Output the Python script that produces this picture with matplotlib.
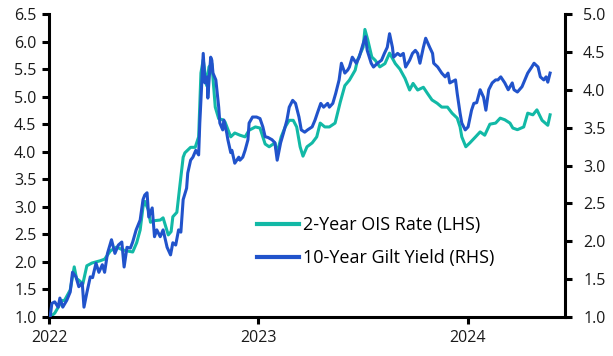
import matplotlib
matplotlib.use("Agg")
import matplotlib.pyplot as plt
import pandas as pd

# ---- data ----
ois_dates = [
    "2022-01-03", "2022-01-11", "2022-01-24", "2022-01-28", "2022-02-07", "2022-02-14",
    "2022-02-18", "2022-02-24", "2022-03-01", "2022-03-08", "2022-03-17", "2022-03-31",
    "2022-04-08", "2022-04-18", "2022-04-29", "2022-05-09", "2022-05-17", "2022-05-27",
    "2022-06-03", "2022-06-09", "2022-06-14", "2022-06-17", "2022-06-23", "2022-06-27",
    "2022-07-05", "2022-07-14", "2022-07-19", "2022-07-28", "2022-08-02", "2022-08-05",
    "2022-08-12", "2022-08-17", "2022-08-23", "2022-08-26", "2022-09-05", "2022-09-13",
    "2022-09-19", "2022-09-23", "2022-09-27", "2022-10-03", "2022-10-07", "2022-10-12",
    "2022-10-18", "2022-10-24", "2022-10-31", "2022-11-04", "2022-11-14", "2022-11-21",
    "2022-11-30", "2022-12-09", "2022-12-16", "2022-12-27", "2023-01-04", "2023-01-13",
    "2023-01-20", "2023-01-30", "2023-02-03", "2023-02-10", "2023-02-17", "2023-02-24",
    "2023-03-03", "2023-03-09", "2023-03-15", "2023-03-20", "2023-03-27", "2023-04-05",
    "2023-04-13", "2023-04-19", "2023-04-27", "2023-05-05", "2023-05-15", "2023-05-24",
    "2023-06-01", "2023-06-09", "2023-06-19", "2023-06-23", "2023-07-03", "2023-07-06",
    "2023-07-11", "2023-07-18", "2023-07-24", "2023-08-01", "2023-08-10", "2023-08-18",
    "2023-08-28", "2023-09-05", "2023-09-14", "2023-09-22", "2023-09-28", "2023-10-06",
    "2023-10-16", "2023-10-23", "2023-10-31", "2023-11-09", "2023-11-17", "2023-11-27",
    "2023-12-05", "2023-12-14", "2023-12-19", "2023-12-22", "2023-12-29", "2024-01-05",
    "2024-01-15", "2024-01-23", "2024-01-31", "2024-02-09", "2024-02-19", "2024-02-27",
    "2024-03-06", "2024-03-15", "2024-03-20", "2024-03-28", "2024-04-08", "2024-04-15",
    "2024-04-24", "2024-05-01", "2024-05-10", "2024-05-20", "2024-05-24",
]
ois_values = [
    1.00, 1.07, 1.30, 1.30, 1.49, 1.91,
    1.70, 1.65, 1.60, 1.93, 1.98, 2.02,
    2.05, 2.20, 2.27, 2.22, 2.20, 2.18,
    2.35, 2.58, 3.00, 3.10, 2.95, 2.72,
    2.75, 2.76, 2.80, 2.49, 2.55, 2.82,
    2.90, 3.36, 3.90, 3.98, 4.08, 4.08,
    4.27, 5.43, 5.67, 5.20, 5.54, 5.60,
    4.81, 4.60, 4.58, 4.54, 4.27, 4.34,
    4.30, 4.27, 4.39, 4.45, 4.43, 4.14,
    4.09, 4.16, 3.98, 4.27, 4.45, 4.57,
    4.57, 4.45, 4.09, 3.92, 4.09, 4.16,
    4.27, 4.52, 4.45, 4.45, 4.52, 4.90,
    5.20, 5.30, 5.48, 5.66, 5.90, 6.22,
    6.03, 5.72, 5.66, 5.54, 5.60, 5.79,
    5.60, 5.50, 5.33, 5.12, 5.24, 5.12,
    5.17, 5.06, 4.94, 4.88, 4.81, 4.81,
    4.70, 4.61, 4.45, 4.27, 4.09, 4.16,
    4.27, 4.36, 4.30, 4.50, 4.52, 4.61,
    4.58, 4.52, 4.43, 4.40, 4.45, 4.70,
    4.67, 4.76, 4.57, 4.48, 4.67,
]

gilt_dates = [
    "2022-01-03", "2022-01-06", "2022-01-11", "2022-01-17", "2022-01-20", "2022-01-25",
    "2022-02-01", "2022-02-07", "2022-02-11", "2022-02-17", "2022-02-22", "2022-02-28",
    "2022-03-03", "2022-03-08", "2022-03-14", "2022-03-18", "2022-03-24", "2022-03-29",
    "2022-04-04", "2022-04-08", "2022-04-13", "2022-04-20", "2022-04-26", "2022-05-02",
    "2022-05-08", "2022-05-12", "2022-05-17", "2022-05-23", "2022-05-27", "2022-06-02",
    "2022-06-09", "2022-06-14", "2022-06-17", "2022-06-21", "2022-06-24", "2022-06-30",
    "2022-07-04", "2022-07-08", "2022-07-14", "2022-07-19", "2022-07-26", "2022-08-01",
    "2022-08-05", "2022-08-10", "2022-08-15", "2022-08-19", "2022-08-23", "2022-08-29",
    "2022-08-31", "2022-09-05", "2022-09-09", "2022-09-14", "2022-09-19", "2022-09-21",
    "2022-09-27", "2022-09-30", "2022-10-04", "2022-10-05", "2022-10-10", "2022-10-12",
    "2022-10-14", "2022-10-19", "2022-10-24", "2022-10-26", "2022-10-31", "2022-11-02",
    "2022-11-07", "2022-11-09", "2022-11-14", "2022-11-16", "2022-11-21", "2022-11-28",
    "2022-11-30", "2022-12-05", "2022-12-09", "2022-12-14", "2022-12-16", "2022-12-22",
    "2022-12-29", "2023-01-04", "2023-01-09", "2023-01-13", "2023-01-18", "2023-01-25",
    "2023-01-30", "2023-02-03", "2023-02-09", "2023-02-14", "2023-02-20", "2023-02-24",
    "2023-03-02", "2023-03-07", "2023-03-13", "2023-03-17", "2023-03-23", "2023-03-28",
    "2023-04-05", "2023-04-10", "2023-04-14", "2023-04-20", "2023-04-25", "2023-05-02",
    "2023-05-05", "2023-05-11", "2023-05-16", "2023-05-22", "2023-05-26", "2023-06-01",
    "2023-06-06", "2023-06-09", "2023-06-14", "2023-06-21", "2023-06-26", "2023-07-03",
    "2023-07-07", "2023-07-10", "2023-07-17", "2023-07-21", "2023-07-28", "2023-08-04",
    "2023-08-09", "2023-08-14", "2023-08-18", "2023-08-23", "2023-08-25", "2023-09-01",
    "2023-09-06", "2023-09-11", "2023-09-15", "2023-09-22", "2023-09-27", "2023-10-02",
    "2023-10-06", "2023-10-10", "2023-10-16", "2023-10-20", "2023-10-27", "2023-11-01",
    "2023-11-03", "2023-11-10", "2023-11-17", "2023-11-23", "2023-11-28", "2023-12-01",
    "2023-12-11", "2023-12-14", "2023-12-19", "2023-12-22", "2023-12-28", "2024-01-02",
    "2024-01-08", "2024-01-12", "2024-01-17", "2024-01-23", "2024-01-29", "2024-02-02",
    "2024-02-07", "2024-02-13", "2024-02-19", "2024-02-23", "2024-02-28", "2024-03-06",
    "2024-03-12", "2024-03-19", "2024-03-22", "2024-03-28", "2024-04-05", "2024-04-10",
    "2024-04-15", "2024-04-22", "2024-04-26", "2024-05-03", "2024-05-07", "2024-05-13",
    "2024-05-17", "2024-05-20", "2024-05-24",
]
gilt_values = [
    1.00, 1.18, 1.20, 1.13, 1.25, 1.13,
    1.22, 1.33, 1.59, 1.53, 1.40, 1.45,
    1.13, 1.32, 1.53, 1.52, 1.71, 1.59,
    1.69, 1.59, 1.84, 2.02, 1.84, 1.95,
    1.99, 1.66, 1.92, 1.91, 1.99, 2.15,
    2.28, 2.55, 2.61, 2.64, 2.32, 2.44,
    2.06, 2.15, 2.06, 2.15, 1.92, 1.82,
    1.98, 1.95, 2.15, 2.12, 2.55, 2.70,
    2.90, 3.07, 3.11, 3.20, 3.14, 3.56,
    4.48, 4.09, 4.17, 3.89, 4.43, 4.39,
    4.22, 4.13, 3.77, 3.56, 3.47, 3.60,
    3.43, 3.34, 3.17, 3.20, 3.03, 3.11,
    3.07, 3.11, 3.20, 3.34, 3.56, 3.64,
    3.64, 3.62, 3.51, 3.38, 3.37, 3.34,
    3.30, 3.07, 3.30, 3.43, 3.60, 3.77,
    3.86, 3.82, 3.64, 3.47, 3.44, 3.47,
    3.51, 3.60, 3.69, 3.82, 3.77, 3.82,
    3.77, 3.82, 3.95, 4.13, 4.35, 4.22,
    4.26, 4.30, 4.43, 4.35, 4.43, 4.61,
    4.70, 4.52, 4.35, 4.30, 4.35, 4.39,
    4.48, 4.56, 4.74, 4.56, 4.43, 4.48,
    4.45, 4.48, 4.30, 4.39, 4.48, 4.52,
    4.48, 4.35, 4.56, 4.68, 4.56, 4.48,
    4.35, 4.30, 4.22, 4.17, 4.22, 4.09,
    4.13, 3.95, 3.69, 3.56, 3.47, 3.51,
    3.73, 3.82, 3.83, 4.00, 3.90, 3.73,
    4.00, 4.09, 4.13, 4.13, 4.17, 4.09,
    4.00, 4.09, 4.00, 3.97, 4.04, 4.13,
    4.22, 4.30, 4.35, 4.30, 4.17, 4.13,
    4.17, 4.10, 4.22,
]

ois_label = "2-Year OIS Rate (LHS)"
gilt_label = "10-Year Gilt Yield (RHS)"
left_ticks = [1.0, 1.5, 2.0, 2.5, 3.0, 3.5, 4.0, 4.5, 5.0, 5.5, 6.0, 6.5]
right_ticks = [1.0, 1.5, 2.0, 2.5, 3.0, 3.5, 4.0, 4.5, 5.0]
year_ticks = ["2022-01-01", "2023-01-01", "2024-01-01"]
year_labels = ["2022", "2023", "2024"]

# ---- style ----
plt.rcParams["font.family"] = ["Open Sans", "DejaVu Sans"]
plt.rcParams["font.size"] = 11.5
TEAL = "#12b9a6"
BLUE = "#2153cb"

fig = plt.figure(figsize=(6.13, 3.56), dpi=100)
ax = fig.add_axes([49 / 613, 1 - 317 / 356, (565 - 49) / 613, (317 - 14) / 356])
ax2 = ax.twinx()

l1, = ax.plot(pd.to_datetime(ois_dates), ois_values, color=TEAL, lw=2.2,
              label=ois_label, solid_joinstyle="round")
l2, = ax2.plot(pd.to_datetime(gilt_dates), gilt_values, color=BLUE, lw=2.2,
               label=gilt_label, solid_joinstyle="round")

ax.set_xlim(pd.Timestamp("2022-01-01"), pd.Timestamp("2024-06-19"))
ax.set_ylim(1.0, 6.5)
ax2.set_ylim(1.0, 5.0)
ax.set_yticks(left_ticks)
ax.set_yticklabels([f"{v:.1f}" for v in left_ticks])
ax2.set_yticks(right_ticks)
ax2.set_yticklabels([f"{v:.1f}" for v in right_ticks])
ax.set_xticks(pd.to_datetime(year_ticks))
ax.set_xticklabels(year_labels)

for a in (ax, ax2):
    a.spines["top"].set_visible(False)
    for s in a.spines.values():
        s.set_linewidth(2.2)
        s.set_color("black")
    a.tick_params(width=2.2, length=5, color="black", labelcolor="#1a1a1a", pad=4)
ax2.tick_params(axis="y", pad=8)
ax.spines["right"].set_visible(False)
ax2.spines["left"].set_visible(False)
ax2.spines["bottom"].set_visible(False)

fig.legend(handles=[l1, l2], loc="center left",
           bbox_to_anchor=(257 / 613, 1 - 241.5 / 356), frameon=False,
           borderpad=0, borderaxespad=0, handlelength=2.35, handletextpad=0.2,
           labelspacing=0.85, fontsize=13)
for line in fig.legends[0].get_lines():
    line.set_linewidth(3)

fig.savefig("out.png", dpi=100)
